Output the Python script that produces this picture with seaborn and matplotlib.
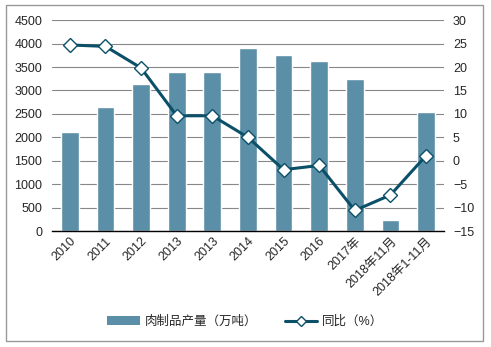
import numpy as np
import pandas as pd
import matplotlib
matplotlib.use("Agg")
import matplotlib.pyplot as plt
import seaborn as sns
from matplotlib.patches import Rectangle
from matplotlib.lines import Line2D
from matplotlib.patches import Patch

categories = ["2010", "2011", "2012", "2013", "2013", "2014", "2015", "2016",
              "2017年", "2018年11月", "2018年1-11月"]
production = [2110, 2645, 3135, 3390, 3390, 3900, 3755, 3625, 3240, 235, 2540]
yoy = [24.7, 24.4, 19.8, 9.6, 9.6, 5.0, -1.9, -1.0, -10.6, -7.3, 1.1]

sns.set_theme(style="white")
plt.rcParams['font.family'] = ['Liberation Sans', 'Noto Sans CJK SC', 'DejaVu Sans']

bar_color = "#5b8fa8"
line_color = "#0b5068"

df = pd.DataFrame({"pos": np.arange(len(categories)), "prod": production, "yoy": yoy})

fig = plt.figure(figsize=(4.91, 3.47), dpi=100)
ax = fig.add_axes([0.106, 0.334, 0.798, 0.608])
sns.barplot(data=df, x="pos", y="prod", color=bar_color, width=0.5, ax=ax,
            saturation=1)
ax.set_xlim(-0.5, len(categories) - 0.5)
ax.set_ylim(0, 4500)
ax.set_yticks(np.arange(0, 4501, 500))
ax.yaxis.grid(True, color="#888888", linewidth=0.8)
ax.set_axisbelow(True)
ax.set_xticks(np.arange(len(categories)))
ax.set_xticklabels(categories, rotation=45, ha="right", rotation_mode="anchor", fontsize=9)
ax.tick_params(axis="y", labelsize=9, length=0, pad=7)
ax.tick_params(axis="x", length=0, pad=3)
ax.set_xlabel("")
ax.set_ylabel("")
for s in ["top", "left", "right"]:
    ax.spines[s].set_visible(False)
ax.spines["bottom"].set_color("black")
ax.spines["bottom"].set_linewidth(1)

ax2 = ax.twinx()
sns.lineplot(data=df, x="pos", y="yoy", ax=ax2, color=line_color, linewidth=2.2,
             marker="D", markersize=7, markerfacecolor="white",
             markeredgecolor=line_color, markeredgewidth=1)
ax2.set_ylim(-15, 30)
ax2.set_yticks(np.arange(-15, 31, 5))
ax2.tick_params(axis="y", labelsize=9, length=0, pad=6.5)
ax2.set_ylabel("")
ax2.set_xlabel("")
for s in ["top", "left", "right", "bottom"]:
    ax2.spines[s].set_visible(False)
ax2.grid(False)

handles = [Patch(facecolor=bar_color, edgecolor="none"),
           Line2D([0], [0], color=line_color, linewidth=2.2, marker="D", markersize=5,
                  markerfacecolor="white", markeredgecolor=line_color)]
fig.legend(handles, ["肉制品产量（万吨）", "同比（%）"], loc="center",
           bbox_to_anchor=(0.5, 0.072), ncol=2, frameon=False, fontsize=9,
           handlelength=2.6, columnspacing=2.2, handletextpad=0.4)

fig.patches.append(Rectangle((0.012, 0.017), 0.972, 0.968, transform=fig.transFigure,
                             fill=False, edgecolor="#999999", linewidth=1))

fig.savefig("out.png", dpi=100)
